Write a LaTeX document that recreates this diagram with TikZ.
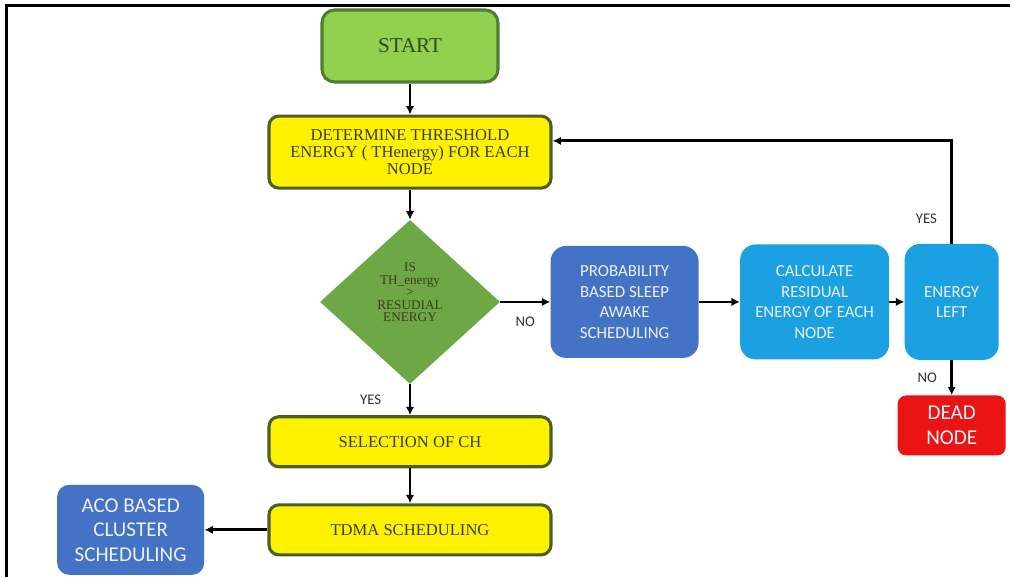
\documentclass[tikz,border=0pt]{standalone}
\usepackage{fontspec}
\setmainfont{Liberation Serif}
\newfontfamily\calibri{Carlito}
\usepackage{xcolor}
\usepackage{tikz}
\usetikzlibrary{shapes.geometric, arrows.meta, positioning}
\definecolor{startfill}{RGB}{146,208,80}
\definecolor{startline}{RGB}{80,125,50}
\definecolor{starttext}{RGB}{45,75,30}
\definecolor{boxline}{RGB}{75,95,35}
\definecolor{boxtext}{RGB}{60,60,25}
\definecolor{decfill}{RGB}{110,168,70}
\definecolor{procblue}{RGB}{68,114,196}
\definecolor{calcblue}{RGB}{27,160,225}
\definecolor{deadred}{RGB}{235,20,20}
\definecolor{tagtext}{RGB}{50,50,50}

\begin{document}
\begin{tikzpicture}[
    terminal/.style={rectangle, rounded corners=9pt, draw=startline, line width=2.2pt, fill=startfill, minimum width=4.4cm, minimum height=1.8cm, text=starttext, font=\fontsize{15}{17}\selectfont},
    stepbox/.style={rectangle, rounded corners=7pt, draw=boxline, line width=2.2pt, fill=yellow, minimum width=7.05cm, align=center, text=boxtext, font=\fontsize{11.8}{11.8}\selectfont},
    decision/.style={diamond, fill=decfill, inner sep=0pt, minimum width=4.5cm, minimum height=4.1cm, align=center, text=boxtext, font=\fontsize{9.4}{8.9}\selectfont},
    task/.style={rectangle, rounded corners=11pt, align=center, text=white!90!procblue, font=\calibri\fontsize{12}{14.6}\selectfont},
    tag/.style={inner sep=1pt, text=tagtext, font=\calibri\fontsize{10.5}{12}\selectfont},
    flow/.style={-{Latex[length=6pt, width=6pt]}, line width=2pt},
    node distance=0.775cm,
]
\useasboundingbox (0,0) rectangle (25.25,-14.425);
\draw[line width=2pt] (0.17,-14.425) |- (25.25,-0.13);

\node[terminal]                                  (start)  at (10.25,-1.15)        {START};
\node[stepbox, minimum height=1.8cm]              (thresh) [below=of start]         {DETERMINE THRESHOLD\\ENERGY ( THenergy) FOR EACH\\NODE};
\node[decision]                                  (check)  [below=0.75cm of thresh] {IS\\TH\_energy\\>\\RESUDIAL\\ENERGY\\[0.5em]};
\node[stepbox, minimum height=1.25cm]             (select) [below=of check]         {SELECTION OF CH};
\node[stepbox, minimum height=1.25cm]             (tdma)   [below=0.875cm of select] {TDMA SCHEDULING};
\node[task, fill=procblue, minimum width=3.675cm, minimum height=2.25cm, rounded corners=8.5pt, font=\calibri\fontsize{15}{17.4}\selectfont] (aco) [left=1.575cm of tdma] {ACO BASED\\CLUSTER\\SCHEDULING};
\node[task, fill=procblue, minimum width=3.7cm, minimum height=2.8cm]   (sleep)  [right=1.25cm of check]  {PROBABILITY\\BASED SLEEP\\AWAKE\\SCHEDULING};
\node[task, fill=calcblue, minimum width=3.725cm, minimum height=2.875cm] (resid) [right=1.025cm of sleep] {CALCULATE\\RESIDUAL\\ENERGY OF EACH\\NODE};
\node[task, fill=calcblue, minimum width=2.35cm, minimum height=2.9cm]  (remain) [right=0.375cm of resid] {ENERGY\\LEFT};
\node[task, fill=deadred, minimum width=2.7cm, minimum height=1.5cm, rounded corners=6pt, font=\calibri\fontsize{15}{18}\selectfont] (dead) [below=0.875cm of remain] {DEAD\\NODE};

\draw[flow] (start) -- (thresh);
\draw[flow] (thresh) -- (check);
\draw[flow] (check) -- node[tag, left=0.65cm] {YES} (select);
\draw[flow] (select) -- (tdma);
\draw[flow] (tdma) -- (aco);
\draw[flow] (check) -- node[tag, below=0.3cm] {NO} (sleep);
\draw[flow] (sleep) -- (resid);
\draw[flow] (resid) -- (remain);
\draw[flow] (remain) -- node[tag, left=0.3cm] {NO} (dead);
\draw[flow] (remain.north) |- node[tag, pos=0.12, left=0.3cm] {YES} ([yshift=0.28cm]thresh.east);
\end{tikzpicture}
\end{document}
